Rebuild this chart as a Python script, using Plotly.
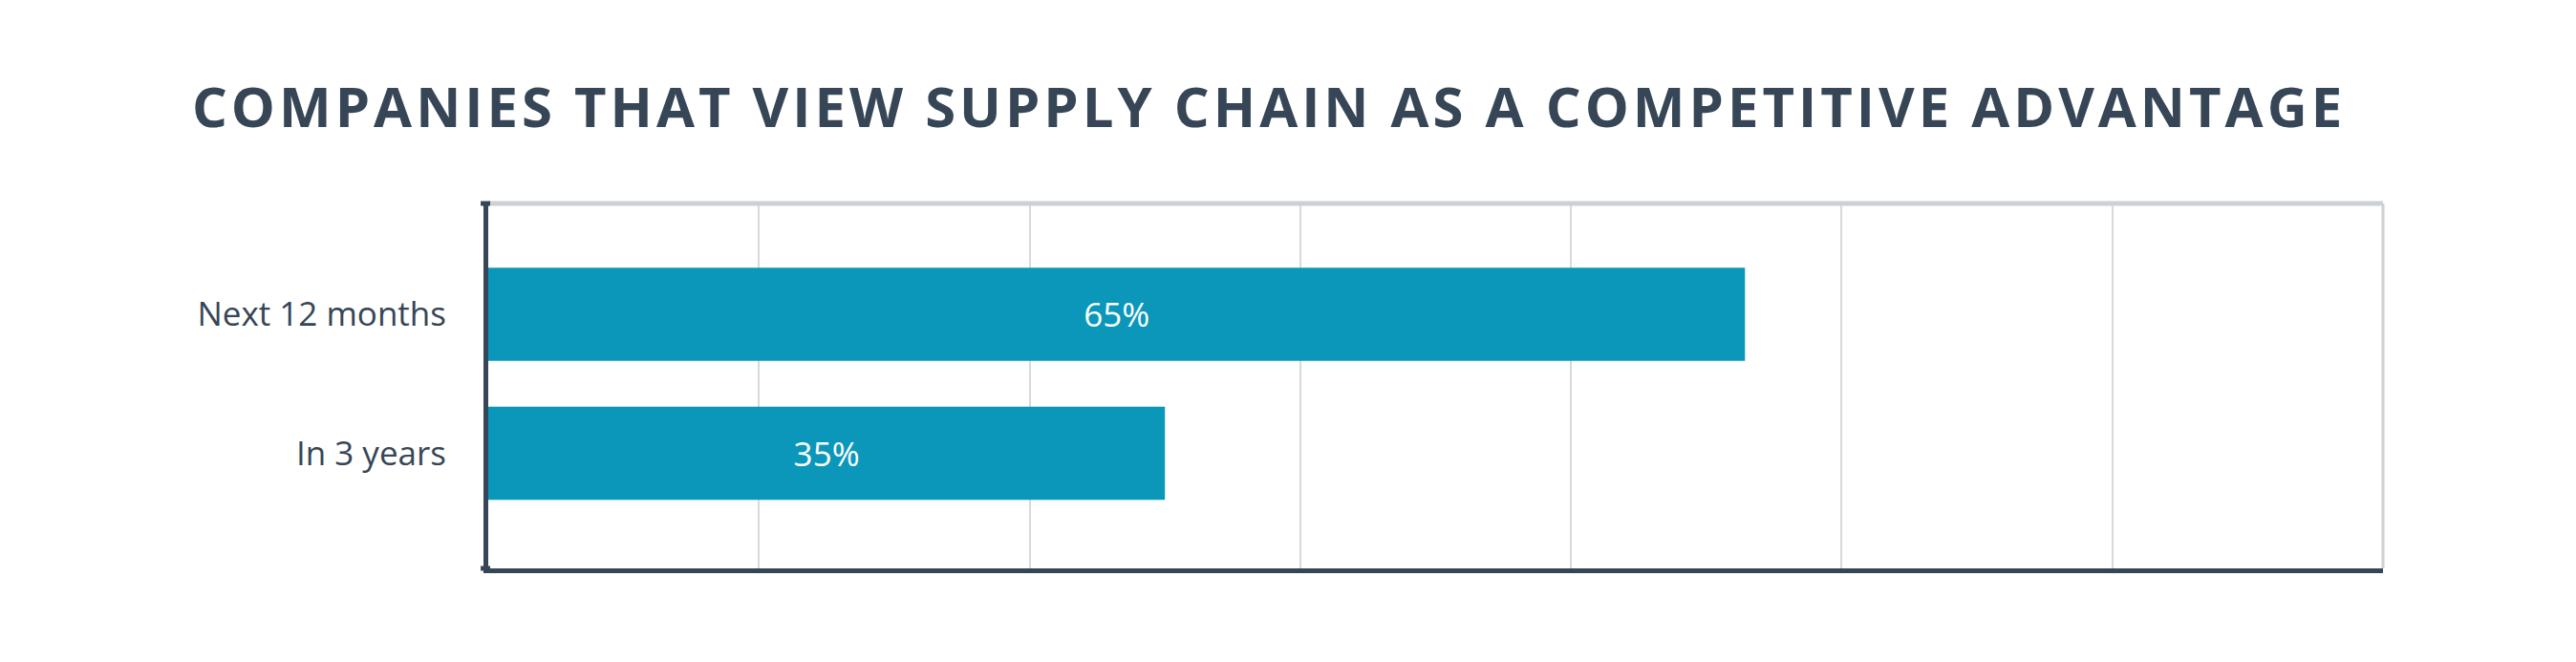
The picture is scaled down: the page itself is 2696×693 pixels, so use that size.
import plotly.graph_objects as go

categories = ["Next 12 months", "In 3 years"]
values = [65, 35]
grid_vals = [14, 28, 42, 56, 70, 84]
title_text = "COMPANIES THAT VIEW SUPPLY CHAIN AS A COMPETITIVE ADVANTAGE"

BAR = "#0a97ba"
DARK = "#364656"
LIGHT = "#cdd0d4"
GRID = "#d7d9dc"

W, H = 2680, 677  # page body adds a small margin

fig = go.Figure(
    go.Bar(
        x=values,
        y=categories,
        orientation="h",
        marker=dict(color=BAR, line=dict(width=0)),
        width=0.67,
        text=[f"{v}%" for v in values],
        textposition="inside",
        insidetextanchor="middle",
        textangle=0,
        textfont=dict(family="Open Sans", size=35, color="white"),
        hoverinfo="skip",
    )
)

shapes = [
    dict(type="line", xref="paper", yref="paper", x0=0, x1=1, y0=1, y1=1,
         line=dict(color=LIGHT, width=5), layer="above"),
    dict(type="line", xref="paper", yref="paper", x0=1, x1=1, y0=0, y1=1,
         line=dict(color=LIGHT, width=3), layer="above"),
    dict(type="line", xref="paper", yref="paper", x0=-0.004, x1=0.001, y0=1, y1=1,
         line=dict(color=DARK, width=5), layer="above"),
    dict(type="line", xref="paper", yref="paper", x0=-0.004, x1=0.001, y0=0, y1=0,
         line=dict(color=DARK, width=5), layer="above"),
]

fig.update_layout(
    width=W,
    height=H,
    paper_bgcolor="white",
    plot_bgcolor="white",
    margin=dict(l=503, r=194, t=205, b=90, autoexpand=False),
    showlegend=False,
    shapes=shapes,
    title=dict(
        text=title_text,
        x=1320 / W,
        xref="container",
        xanchor="center",
        y=1 - 105 / H,
        yref="container",
        yanchor="middle",
        font=dict(family="Open Sans", size=58, color=DARK, weight=700),
    ),
    xaxis=dict(
        range=[0, 98],
        tickvals=grid_vals,
        showticklabels=False,
        showgrid=True,
        gridcolor=GRID,
        gridwidth=2,
        zeroline=False,
        showline=True,
        linecolor=DARK,
        linewidth=5,
        ticks="",
        fixedrange=True,
    ),
    yaxis=dict(
        categoryorder="array",
        categoryarray=categories,
        range=[1.828, -0.797],
        showline=True,
        linecolor=DARK,
        linewidth=5,
        showgrid=False,
        zeroline=False,
        ticks="",
        ticklabelstandoff=32,
        tickfont=dict(family="Open Sans", size=35, color=DARK),
        fixedrange=True,
    ),
)

post = (
    "var t=document.querySelector('.gtitle');"
    "if(t){t.style.letterSpacing='4px';}"
)
fig.write_html("out.html", post_script=post)
